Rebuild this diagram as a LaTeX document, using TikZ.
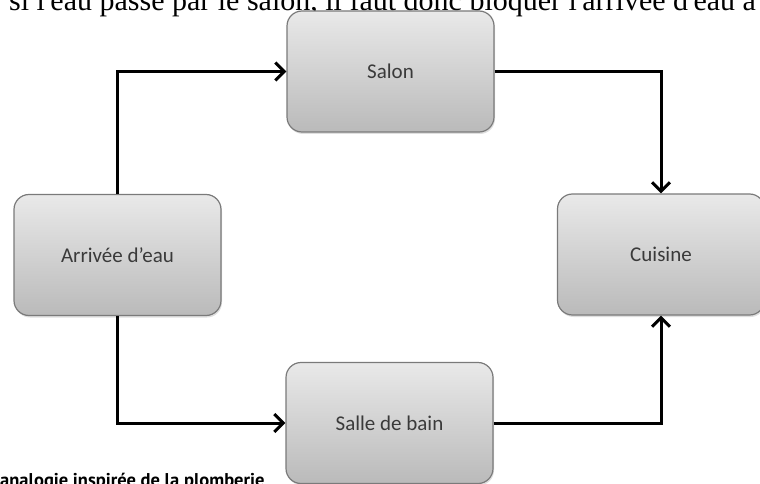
\documentclass[tikz,border=0pt]{standalone}
\usepackage{fontspec}
\setmainfont{Carlito}
\newfontfamily\pagefont{Liberation Serif}
\newfontfamily\captionfont{PT Sans}
\usepackage{xcolor}
\usepackage{tikz}
\usetikzlibrary{arrows.meta,shadows}

\definecolor{roomtop}{HTML}{E9E9E9}
\definecolor{roombottom}{HTML}{BABABA}
\definecolor{roomline}{HTML}{7A7A7A}
\definecolor{roomtext}{HTML}{3A3A3A}

\tikzset{
	room/.style={rectangle, rounded corners=15pt, draw=roomline, line width=1.2pt,
		top color=roomtop, bottom color=roombottom,
		drop shadow={opacity=0.25, shadow xshift=1pt, shadow yshift=-2pt},
		minimum width=207pt, minimum height=121pt, text=roomtext,
		font=\fontsize{21}{25}\selectfont},
	flow/.style={draw=black, line width=3pt, -{Straight Barb[length=9pt,width=18pt]}}
}

\begin{document}
\begin{tikzpicture}[x=1pt, y=-1pt]
	\useasboundingbox (0,0) rectangle (760,484);
	\clip (0,0) rectangle (760,484);
	\node[anchor=base west, inner sep=0pt, font=\pagefont\fontsize{30}{34}\selectfont] (page) at (9,11) {si l'eau passe par le salon, il faut donc bloquer l'arrivée d'eau a};
	\node[anchor=base west, inner sep=0pt, font=\captionfont\bfseries\fontsize{18.5}{22}\selectfont] (caption) at (0,486) {analogie inspirée de la plomberie};
	\node[room] (salon) at (390.5,71.5) {Salon};
	\node[room] (arrivee) at (117.5,255) {Arrivée d’eau};
	\node[room] (cuisine) at (661,254.5) {Cuisine};
	\node[room] (salle) at (389.5,423) {Salle de bain};
	\draw[flow] (arrivee.north) |- (salon.west);
	\draw[flow] (salon.east) -| (cuisine.north);
	\draw[flow] (arrivee.south) |- (salle.west);
	\draw[flow] (salle.east) -| (cuisine.south);
\end{tikzpicture}
\end{document}
